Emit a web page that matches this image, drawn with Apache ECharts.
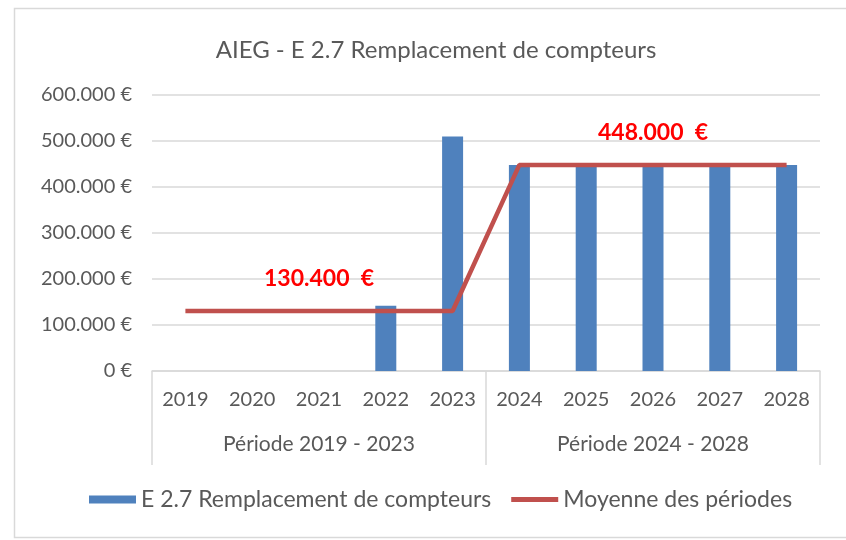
<!DOCTYPE html>
<html>
<head>
<meta charset="utf-8">
<script src="https://cdn.jsdelivr.net/npm/echarts@6/dist/echarts.min.js"></script>
<style>
  html, body { margin: 0; padding: 0; background: #fff; }
  #main { width: 846px; height: 540px; }
</style>
</head>
<body>
<div id="main"></div>
<script>
// values
const years = ['2019', '2020', '2021', '2022', '2023', '2024', '2025', '2026', '2027', '2028'];
const periods = ['Période 2019 - 2023', 'Période 2024 - 2028'];
const remplacement = [null, null, null, 142000, 510000, 448000, 448000, 448000, 448000, 448000];
const moyenne = [130400, 130400, 130400, 130400, 130400, 448000, 448000, 448000, 448000, 448000];
const labelIdx = [2, 7]; // where the period averages are written

const FONT = 'Lato, "Open Sans", sans-serif';
const GREY = '#595959';

function euro(v) {
  return String(v).replace(/\B(?=(\d{3})+(?!\d))/g, '.') + ' €';
}

const lineData = moyenne.map((v, i) => {
  if (labelIdx.indexOf(i) < 0) return v;
  return {
    value: v,
    label: {
      show: true, position: 'top', distance: 21,
      formatter: p => euro(p.value).replace(' €', '  €'),
      color: '#ff0000', fontWeight: 'bold', fontSize: 23, fontFamily: FONT
    }
  };
});

const chart = echarts.init(document.getElementById('main'));
chart.setOption({
  animation: false,
  backgroundColor: '#fff',
  textStyle: { fontFamily: FONT },
  title: {
    text: 'AIEG - E 2.7 Remplacement de compteurs',
    left: 431, top: 33, textAlign: 'center',
    textStyle: { fontSize: 24, fontWeight: 'normal', color: GREY, fontFamily: FONT }
  },
  graphic: [{
    type: 'rect', silent: true, z: -1,
    shape: { x: 14.5, y: 8.5, width: 900, height: 529 },
    style: { fill: 'none', stroke: '#d9d9d9', lineWidth: 1.5 }
  }],
  grid: { left: 152, right: 26, top: 95, bottom: 169 },
  legend: {
    left: 84, top: 483,
    itemWidth: 47, itemHeight: 8, itemGap: 20,
    textStyle: { fontSize: 23, color: GREY, fontFamily: FONT },
    data: [
      { name: 'E 2.7 Remplacement de compteurs', icon: 'rect' },
      { name: 'Moyenne des périodes', icon: 'path://M0,0 H47 V5 H0 Z' }
    ]
  },
  xAxis: [{
    type: 'category', data: years, position: 'bottom',
    axisLine: { lineStyle: { color: '#d9d9d9', width: 1.5 } },
    axisTick: { show: false },
    axisLabel: { margin: 19, fontSize: 20, color: GREY, fontFamily: FONT }
  }, {
    type: 'category', data: periods, position: 'bottom',
    axisLine: { show: false },
    axisTick: { show: true, length: 94, interval: 0, lineStyle: { color: '#d9d9d9', width: 1.5 } },
    axisLabel: { margin: 63, interval: 0, fontSize: 21, color: GREY, fontFamily: FONT }
  }],
  yAxis: {
    type: 'value', min: 0, max: 600000, interval: 100000,
    axisLine: { show: false }, axisTick: { show: false },
    splitLine: { lineStyle: { color: '#d9d9d9', width: 1.5 } },
    axisLabel: { margin: 20, fontSize: 20, color: GREY, fontFamily: FONT, formatter: euro }
  },
  series: [{
    name: 'E 2.7 Remplacement de compteurs',
    type: 'bar', xAxisIndex: 0,
    data: remplacement, barWidth: 21,
    itemStyle: { color: '#4f81bd' }
  }, {
    name: 'Moyenne des périodes',
    type: 'line', xAxisIndex: 0,
    data: lineData, symbol: 'circle', symbolSize: 0, showSymbol: true,
    lineStyle: { color: '#c0504d', width: 4.5 },
    itemStyle: { color: '#c0504d' }
  }]
});
</script>
</body>
</html>
